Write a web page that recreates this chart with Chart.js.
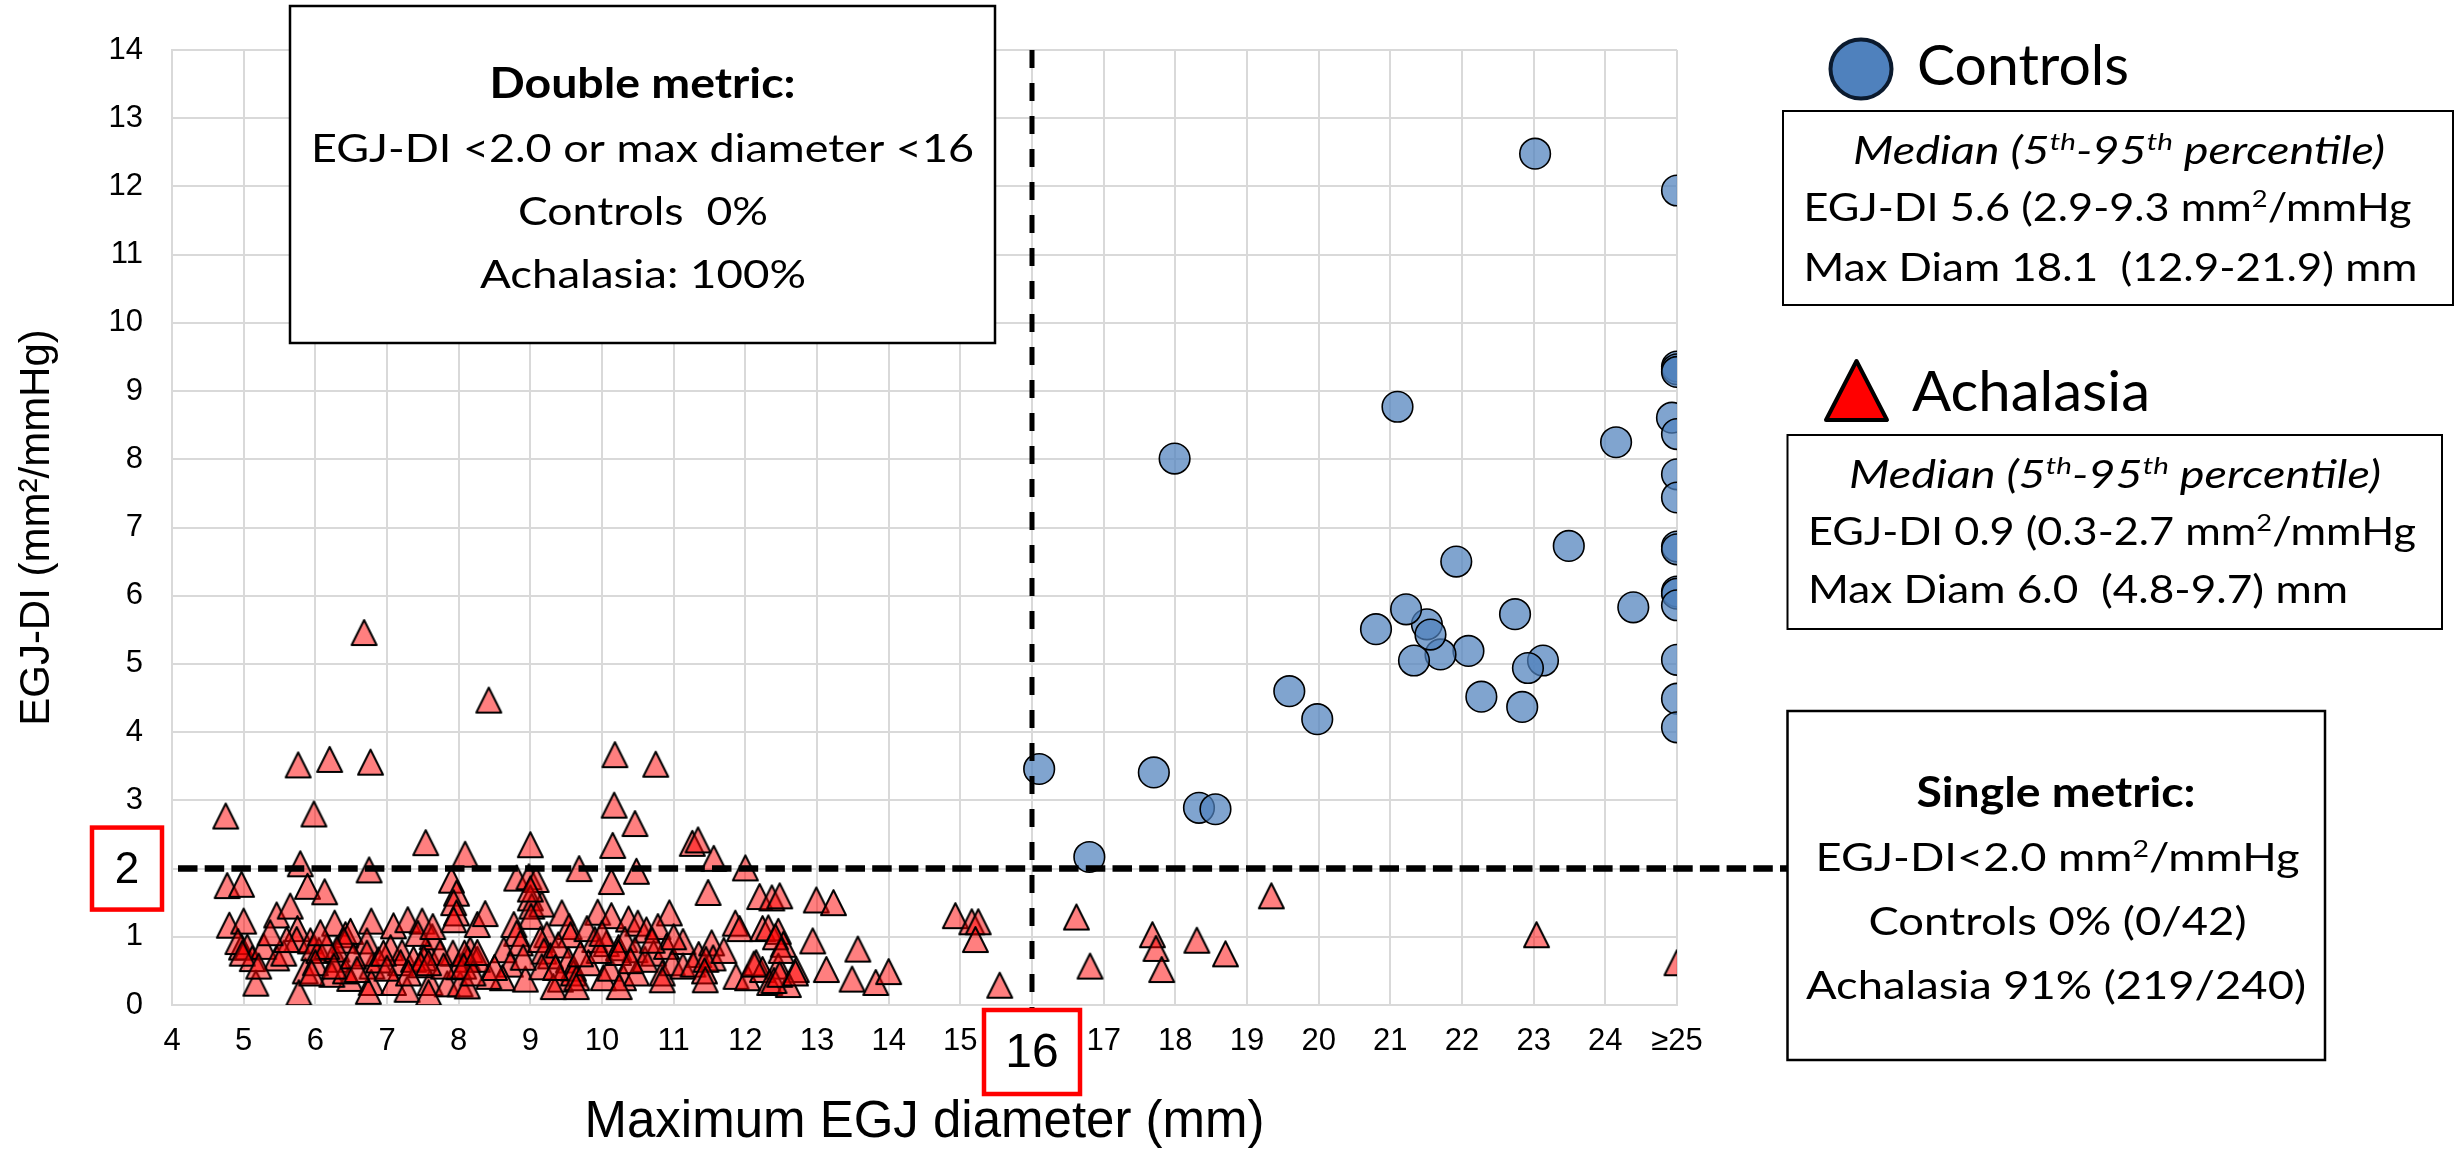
<!DOCTYPE html>
<html>
<head>
<meta charset="utf-8">
<title>EGJ-DI vs maximum EGJ diameter</title>
<script src="https://cdn.jsdelivr.net/npm/chart.js@4.4.1/dist/chart.umd.min.js"></script>
<style>
  html, body { margin: 0; padding: 0; background: #fff; }
  #wrap { width: 2455px; height: 1156px; }
</style>
</head>
<body>
<div id="wrap"><canvas id="chart" width="2455" height="1156"></canvas></div>
<script>
// tick labels (the 2 and 16 positions get their own boxed labels)
const xTickLabels = ['4', '5', '6', '7', '8', '9', '10', '11', '12', '13', '14', '15', '', '17', '18', '19', '20', '21', '22', '23', '24', '≥25'];
const yTickLabels = ['0', '1', '', '3', '4', '5', '6', '7', '8', '9', '10', '11', '12', '13', '14'];

// cut-offs
const diCutoff = 2;
const diamCutoff = 16;

// [max diameter (mm), EGJ-DI (mm2/mmHg)]
const controls = [
  [23.02, 12.48], [25, 11.94], [25, 9.36], [25, 9.32], [25, 9.28], [24.93, 8.61], [25, 8.37], [25, 7.78],
  [25, 7.44], [25, 6.72], [25, 6.68], [25, 6.06], [25, 6.03], [25, 5.86], [25, 5.06], [25, 4.49], [25, 4.07],
  [24.15, 8.25], [24.39, 5.83], [23.49, 6.73], [22.74, 5.73], [23.13, 5.05], [22.92, 4.94], [22.84, 4.37],
  [22.27, 4.52], [22.09, 5.19], [21.92, 6.5], [21.7, 5.14], [21.51, 5.58], [21.56, 5.43], [21.22, 5.8],
  [21.33, 5.05], [20.8, 5.51], [21.1, 8.77], [19.98, 4.19], [19.59, 4.6], [17.99, 8.01], [17.7, 3.41],
  [18.33, 2.89], [18.56, 2.87], [16.8, 2.17], [16.1, 3.46]
];

const achalasia = [
  [6.68, 5.46], [8.42, 4.47], [5.76, 3.52], [6.2, 3.6], [6.77, 3.56], [10.18, 3.67], [10.75, 3.53],
  [4.75, 2.77], [5.98, 2.8], [10.17, 2.93], [10.46, 2.66], [7.54, 2.38], [8.09, 2.21], [9.0, 2.35],
  [10.15, 2.34], [11.26, 2.37], [11.34, 2.42], [11.56, 2.15], [12.0, 2.01], [9.68, 2.0], [10.48, 1.96],
  [5.79, 2.07], [6.75, 1.98], [4.77, 1.75], [4.97, 1.77], [5.89, 1.74], [6.13, 1.66], [7.9, 1.83],
  [8.81, 1.86], [8.98, 1.88], [9.08, 1.84], [10.13, 1.81], [11.48, 1.65], [12.2, 1.59], [12.37, 1.57],
  [12.48, 1.6], [12.99, 1.54], [13.23, 1.5], [14.93, 1.31], [15.16, 1.22], [15.25, 1.22], [15.21, 0.96],
  [15.55, 0.29], [19.34, 1.6], [16.62, 1.29], [16.81, 0.57], [17.68, 1.03], [17.73, 0.83], [17.81, 0.52],
  [18.3, 0.95], [18.7, 0.75], [23.04, 1.03], [25.0, 0.62],
  [7.97, 1.64], [7.93, 1.5], [7.97, 1.35], [7.93, 1.25], [4.8, 1.17], [5.0, 1.23], [4.97, 0.85], [4.92, 0.93],
  [5.05, 0.85], [5.12, 0.68], [5.17, 0.32], [5.28, 0.86], [5.46, 1.32], [5.46, 0.69], [5.65, 1.45], [5.75, 1.12],
  [5.74, 0.96], [5.86, 0.5], [5.77, 0.18], [5.93, 0.94], [5.98, 0.84], [6.05, 0.8], [6.27, 1.2], [6.42, 1.03],
  [6.49, 1.08], [6.3, 0.67], [6.4, 0.95], [6.3, 0.82], [6.48, 0.39], [6.23, 0.45], [6.78, 1.23], [6.72, 0.94],
  [6.79, 0.57], [6.78, 0.33], [6.74, 0.2], [7.09, 1.16], [7.05, 0.84], [7.21, 0.77], [7.29, 1.25], [7.49, 1.23],
  [7.57, 0.77], [7.19, 0.62], [7.09, 0.33], [7.28, 0.23], [7.6, 0.33], [7.63, 1.0], [7.43, 1.05], [7.84, 0.31],
  [8.02, 0.31], [8.12, 0.28], [8.16, 0.81], [8.13, 0.67], [8.26, 1.18],
  [9.0, 1.57], [9.02, 1.45], [9.16, 1.48], [9.01, 1.3], [8.37, 1.34], [9.44, 1.35], [9.94, 1.36], [10.13, 1.31],
  [10.94, 1.35], [10.37, 1.26], [10.5, 1.2], [10.62, 1.1], [10.78, 1.15], [8.77, 1.18], [8.81, 1.05], [9.23, 1.03],
  [9.54, 1.15], [9.56, 1.03], [9.79, 1.12], [9.9, 0.96], [10.06, 0.9], [10.23, 0.84], [10.32, 0.96], [10.46, 0.81],
  [10.72, 0.76], [10.9, 0.86], [11.13, 0.93], [11.35, 0.74], [11.53, 0.91], [11.55, 0.69], [11.86, 1.2], [11.92, 1.12],
  [12.24, 1.12], [8.63, 0.81], [8.86, 0.91], [8.72, 0.6], [9.14, 0.96], [9.19, 0.79], [9.28, 0.72], [9.39, 0.88],
  [9.53, 0.66], [9.6, 0.54], [8.61, 0.4], [8.42, 0.42], [8.26, 0.67], [8.93, 0.38], [9.42, 0.38], [9.6, 0.47],
  [9.65, 0.4], [9.81, 0.62], [10.02, 0.4], [10.11, 0.54], [10.23, 0.77], [10.3, 0.4], [10.48, 0.47], [10.6, 0.67],
  [10.84, 0.47], [10.98, 0.62], [11.13, 0.57], [11.27, 0.6], [11.45, 0.67], [11.43, 0.5], [11.87, 0.42], [12.03, 0.4],
  [12.15, 0.62], [12.24, 0.52],
  [12.32, 1.13], [12.46, 1.08], [12.53, 0.89], [12.94, 0.94], [13.57, 0.82], [13.13, 0.52], [12.71, 0.52],
  [13.49, 0.38], [13.82, 0.33], [14.0, 0.49], [12.46, 0.57], [12.34, 0.33], [12.6, 0.3],
  [4.98, 0.76], [6.42, 0.5], [6.72, 0.76], [7.51, 0.69], [7.64, 1.15], [7.92, 0.76], [8.0, 0.56], [8.08, 0.76],
  [9.0, 1.7], [9.16, 0.56], [9.32, 0.27], [9.64, 0.27], [9.96, 0.8], [10.24, 0.27], [10.84, 0.37], [11.44, 0.37],
  [12.12, 0.6], [12.4, 0.36], [12.48, 0.45], [12.7, 0.47], [12.42, 1.0], [12.5, 0.8],
  [6.16, 0.86], [6.0, 0.62], [5.95, 0.47], [6.26, 0.57], [6.53, 0.72], [6.58, 0.52], [6.88, 0.66], [6.95, 0.76],
  [7.0, 0.54], [7.37, 0.67], [7.47, 0.59], [7.3, 0.47], [7.58, 0.18], [7.74, 0.77], [7.79, 0.57], [8.07, 0.57],
  [8.2, 0.47], [8.26, 0.77], [5.21, 0.57], [5.56, 0.76], [5.6, 0.96], [6.07, 1.06], [5.37, 1.06], [7.58, 0.62],
  [8.5, 0.55], [8.9, 0.7], [9.35, 0.55], [9.7, 0.75], [10.0, 1.05], [10.4, 0.65], [10.7, 0.95], [11.0, 1.0],
  [11.7, 0.8]
];

const toXY = (pts) => pts.map(([x, y]) => ({ x, y }));

// semi-transparent triangle marker, drawn once and reused for every point
function triangleMarker(w, h, fill, stroke, lw) {
  const m = 3;
  const c = document.createElement('canvas');
  c.width = w + m * 2;
  c.height = h + m * 2;
  const g = c.getContext('2d');
  g.beginPath();
  g.moveTo(c.width / 2, m);
  g.lineTo(c.width - m, c.height - m);
  g.lineTo(m, c.height - m);
  g.closePath();
  g.fillStyle = fill;
  g.fill();
  g.lineWidth = lw;
  g.lineJoin = 'round';
  g.strokeStyle = stroke;
  g.stroke();
  return c;
}

// one line of text with optional superscript runs, squeezed to a given width
function richLine(ctx, parts, o) {
  const fam = 'Lato, "Open Sans", sans-serif';
  const base = `${o.style || 'normal'} ${o.weight || 'normal'} ${o.size}px ${fam}`;
  const sup = `${o.style || 'normal'} ${o.weight || 'normal'} ${Math.round(o.size * 0.62)}px ${fam}`;
  let natural = 0;
  const widths = parts.map(([t, isSup]) => {
    ctx.font = isSup ? sup : base;
    const w = ctx.measureText(t).width;
    natural += w;
    return w;
  });
  const k = o.width ? o.width / natural : 1;
  const w = natural * k;
  const x0 = o.align === 'left' ? o.x : o.x - w / 2;
  ctx.save();
  ctx.translate(x0, o.y);
  ctx.scale(k, 1);
  ctx.textAlign = 'left';
  ctx.textBaseline = 'alphabetic';
  ctx.fillStyle = '#000';
  let cx = 0;
  parts.forEach(([t, isSup], i) => {
    ctx.font = isSup ? sup : base;
    ctx.fillText(t, cx, isSup ? -o.size * 0.36 : 0);
    cx += widths[i];
  });
  ctx.restore();
}

function box(ctx, x1, y1, x2, y2, color, lw) {
  ctx.save();
  ctx.fillStyle = '#fff';
  ctx.fillRect(x1, y1, x2 - x1, y2 - y1);
  ctx.strokeStyle = color;
  ctx.lineWidth = lw;
  ctx.strokeRect(x1, y1, x2 - x1, y2 - y1);
  ctx.restore();
}

const overlay = {
  id: 'overlay',
  afterDatasetsDraw(chart) {
    const { ctx, chartArea, scales: { x, y } } = chart;
    const yCut = y.getPixelForValue(diCutoff);
    const xCut = x.getPixelForValue(diamCutoff);
    ctx.save();
    ctx.strokeStyle = '#000';
    ctx.lineWidth = 6.5;
    ctx.setLineDash([19.5, 7.2]);
    ctx.beginPath();
    ctx.moveTo(chartArea.left + 6, yCut);
    ctx.lineTo(1788, yCut);
    ctx.stroke();
    ctx.lineWidth = 5;
    ctx.setLineDash([18, 15]);
    ctx.beginPath();
    ctx.moveTo(xCut, chartArea.top);
    ctx.lineTo(xCut, 1012);
    ctx.stroke();
    ctx.restore();
  },
  afterDraw(chart) {
    const { ctx, scales: { x, y } } = chart;
    const yCut = y.getPixelForValue(diCutoff);
    const xCut = x.getPixelForValue(diamCutoff);

    // boxed cut-off labels on the axes
    box(ctx, 92, yCut - 41, 162, yCut + 41, '#ff0000', 4.5);
    box(ctx, xCut - 48, 1010, xCut + 48, 1094, '#ff0000', 4.5);
    ctx.save();
    ctx.fillStyle = '#000';
    ctx.textAlign = 'center';
    ctx.textBaseline = 'middle';
    ctx.font = '44px "Liberation Sans", Arial, sans-serif';
    ctx.fillText('2', 127, yCut + 2);
    ctx.font = '48px "Liberation Sans", Arial, sans-serif';
    ctx.fillText('16', xCut, 1054);
    ctx.restore();

    // double metric box
    box(ctx, 290, 6, 995, 343, '#000', 2.5);
    richLine(ctx, [['Double metric:']], { x: 642.5, y: 98, size: 42, weight: 'bold', width: 306 });
    richLine(ctx, [['EGJ-DI <2.0 or max diameter <16']], { x: 642.5, y: 162, size: 38, width: 663 });
    richLine(ctx, [['Controls  0%']], { x: 643, y: 225, size: 38, width: 250 });
    richLine(ctx, [['Achalasia: 100%']], { x: 643, y: 288, size: 38, width: 326 });

    // controls legend
    ctx.save();
    ctx.beginPath();
    ctx.ellipse(1861, 69, 30.5, 29.5, 0, 0, Math.PI * 2);
    ctx.fillStyle = '#4f81bd';
    ctx.fill();
    ctx.lineWidth = 4;
    ctx.strokeStyle = '#0b1a2e';
    ctx.stroke();
    ctx.restore();
    richLine(ctx, [['Controls']], { x: 1917, y: 85, size: 56, width: 212, align: 'left' });
    box(ctx, 1783, 111, 2453, 305, '#000', 2);
    richLine(ctx, [['Median (5'], ['th', true], ['-95'], ['th', true], [' percentile)']],
      { x: 2119, y: 164, size: 38, style: 'italic', width: 532 });
    richLine(ctx, [['EGJ-DI 5.6 (2.9-9.3 mm'], ['2', true], ['/mmHg']], { x: 1803.5, y: 221, size: 38, width: 608, align: 'left' });
    richLine(ctx, [['Max Diam 18.1  (12.9-21.9) mm']], { x: 1803.5, y: 280.5, size: 38, width: 614, align: 'left' });

    // achalasia legend
    ctx.save();
    ctx.beginPath();
    ctx.moveTo(1856.5, 361);
    ctx.lineTo(1887, 420);
    ctx.lineTo(1826, 420);
    ctx.closePath();
    ctx.fillStyle = '#ff0000';
    ctx.fill();
    ctx.lineWidth = 4;
    ctx.lineJoin = 'round';
    ctx.strokeStyle = '#000';
    ctx.stroke();
    ctx.restore();
    richLine(ctx, [['Achalasia']], { x: 1912, y: 411, size: 56, width: 238, align: 'left' });
    box(ctx, 1787.5, 435, 2442, 629, '#000', 2);
    richLine(ctx, [['Median (5'], ['th', true], ['-95'], ['th', true], [' percentile)']],
      { x: 2115, y: 488, size: 38, style: 'italic', width: 532 });
    richLine(ctx, [['EGJ-DI 0.9 (0.3-2.7 mm'], ['2', true], ['/mmHg']], { x: 1808, y: 545, size: 38, width: 608, align: 'left' });
    richLine(ctx, [['Max Diam 6.0  (4.8-9.7) mm']], { x: 1808, y: 603, size: 38, width: 540, align: 'left' });

    // single metric box
    box(ctx, 1787.5, 711, 2325, 1060, '#000', 2.5);
    richLine(ctx, [['Single metric:']], { x: 2056, y: 807, size: 42, weight: 'bold', width: 279 });
    richLine(ctx, [['EGJ-DI<2.0 mm'], ['2', true], ['/mmHg']], { x: 2057.5, y: 871, size: 38, width: 484 });
    richLine(ctx, [['Controls 0% (0/42)']], { x: 2057.5, y: 935, size: 38, width: 378 });
    richLine(ctx, [['Achalasia 91% (219/240)']], { x: 2056, y: 999, size: 38, width: 500 });
  }
};

const tickFont = { family: '"Liberation Sans", Arial, sans-serif', size: 31 };

new Chart(document.getElementById('chart'), {
  type: 'scatter',
  data: {
    datasets: [
      {
        label: 'Controls',
        data: toXY(controls),
        pointStyle: 'circle',
        pointRadius: 15.3,
        backgroundColor: 'rgba(79,129,189,0.72)',
        borderColor: '#000',
        borderWidth: 1.6
      },
      {
        label: 'Achalasia',
        data: toXY(achalasia),
        pointStyle: triangleMarker(25, 25, 'rgba(255,0,0,0.5)', '#000', 2),
        pointRadius: 14
      }
    ]
  },
  options: {
    responsive: false,
    animation: false,
    devicePixelRatio: 1,
    layout: { padding: { top: 50, right: 778, bottom: 0, left: 0 } },
    plugins: { legend: { display: false }, tooltip: { enabled: false } },
    scales: {
      x: {
        type: 'linear',
        min: 4,
        max: 25,
        afterFit: (s) => { s.height = 151; },
        ticks: {
          stepSize: 1,
          autoSkip: false,
          maxRotation: 0,
          padding: 18,
          color: '#000',
          font: tickFont,
          callback: (v) => xTickLabels[v - 4] ?? ''
        },
        grid: { color: '#d9d9d9', lineWidth: 2, drawTicks: false },
        border: { color: '#d9d9d9', width: 2 },
        title: {
          display: true,
          text: 'Maximum EGJ diameter (mm)',
          color: '#000',
          font: { family: '"Liberation Sans", Arial, sans-serif', size: 51 },
          padding: { top: 0, bottom: 2 }
        }
      },
      y: {
        type: 'linear',
        min: 0,
        max: 14,
        afterFit: (s) => { s.width = 172; },
        ticks: {
          stepSize: 1,
          autoSkip: false,
          padding: 29,
          color: '#000',
          font: tickFont,
          callback: (v) => yTickLabels[v] ?? ''
        },
        grid: { color: '#d9d9d9', lineWidth: 2, drawTicks: false },
        border: { color: '#d9d9d9', width: 2 },
        title: {
          display: true,
          text: 'EGJ-DI (mm²/mmHg)',
          color: '#000',
          font: { family: '"Liberation Sans", Arial, sans-serif', size: 42 },
          padding: { top: 12, bottom: 0 }
        }
      }
    }
  },
  plugins: [overlay]
});
</script>
</body>
</html>
